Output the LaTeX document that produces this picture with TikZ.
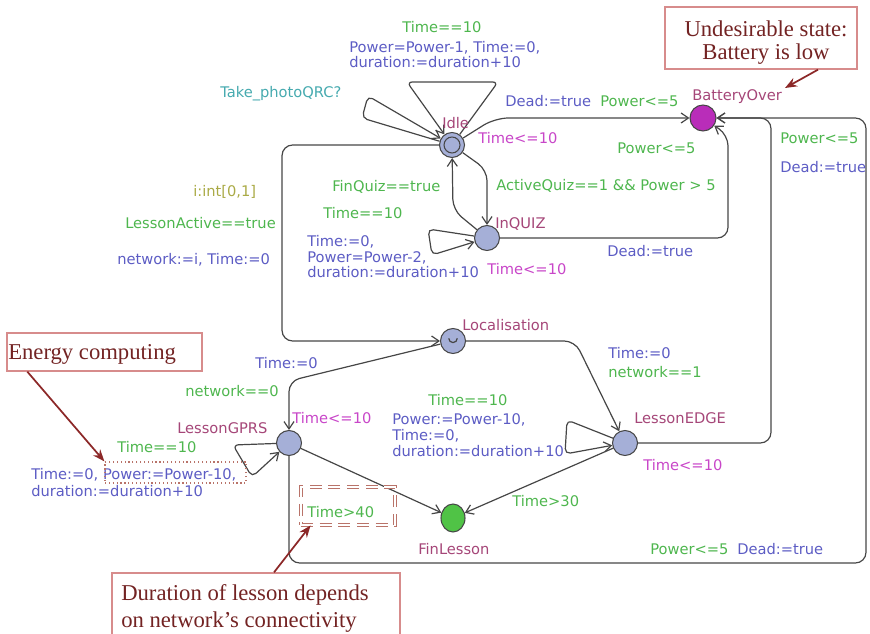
\documentclass[tikz,border=0pt]{standalone}
\usepackage{fontspec}
\newfontfamily\labfont{DejaVu Sans}
\newfontfamily\annfont[Ligatures=TeX]{Liberation Serif}
\usetikzlibrary{arrows.meta,shapes.geometric}

\definecolor{grd}{RGB}{78,182,78}
\definecolor{upd}{RGB}{92,92,196}
\definecolor{inv}{RGB}{200,70,200}
\definecolor{nam}{RGB}{165,70,120}
\definecolor{syn}{RGB}{70,170,175}
\definecolor{sel}{RGB}{170,170,70}
\definecolor{locfill}{RGB}{165,175,215}
\definecolor{battfill}{RGB}{185,45,185}
\definecolor{finfill}{RGB}{80,195,70}
\definecolor{edgec}{RGB}{70,70,70}
\definecolor{anntext}{RGB}{115,35,35}
\definecolor{annline}{RGB}{215,140,140}
\definecolor{annarrow}{RGB}{140,40,40}
\definecolor{dashc}{RGB}{185,115,105}

\newcommand\lb[4]{\node[lbl,text=#1] (#2) at (#3) {#4};}

\begin{document}
\begin{tikzpicture}[x=0.75pt,y=-0.75pt,
  lbl/.style={anchor=west,inner sep=0pt,yshift=-2pt,font=\labfont\fontsize{11}{13}\selectfont,
              text height=1.5ex,text depth=0.3ex},
  locs/.style={circle,draw=edgec,line width=0.8pt,fill=locfill,
               minimum size=18.75pt,inner sep=0pt},
  trans/.style={draw=edgec,line width=0.9pt,rounded corners=8pt,
                -{Straight Barb[length=5.5pt,width=7.5pt]}},
  loopt/.style={trans,rounded corners=4pt},
  annbox/.style={draw=annline,line width=1pt,inner sep=0pt},
  anntxt/.style={anchor=west,inner sep=0pt,yshift=-1.5pt,text=anntext,
                 font=\annfont\fontsize{17}{19}\selectfont},
  annarr/.style={draw=annarrow,line width=1.3pt,-{Stealth[length=9pt,width=7pt]}}]

\useasboundingbox (0,0) rectangle (870,634);

% ---------- locations ----------
\node[locs] (idle) at (452,145) {};
\draw[edgec,line width=0.8pt] (idle.center) circle[radius=6pt];
\node[locs,fill=battfill,minimum size=19.5pt] (batt) at (703,118) {};
\node[locs] (quiz) at (487,238) {};
\node[locs] (local) at (453,341) {};
\draw[edgec,line width=0.9pt] ([xshift=-3.2pt,yshift=2pt]local.center)
  arc[start angle=180,end angle=360,radius=3.2pt];
\node[locs] (gprs) at (289,443) {};
\node[locs] (edgeloc) at (625,443) {};
\node[ellipse,draw=edgec,line width=0.8pt,fill=finfill,minimum width=18pt,
      minimum height=21pt,inner sep=0pt] (fin) at (453,518) {};

% ---------- transitions ----------
% Idle self loops
\draw[loopt] (idle) -- (362,118) -- (368,96) -- (idle);
\draw[loopt] (idle) -- (498,82) -- (407,82) -- (idle);
% Idle -> BatteryOver
\draw[trans,rounded corners=10pt] (idle) -- (495,118) -- (batt);
% Idle <-> InQUIZ
\draw[trans] (idle) -- (487,170) -- (quiz);
\draw[trans] (quiz) -- (453,210) -- (idle);
% InQUIZ self loop
\draw[loopt] (quiz) -- (428,229) -- (432,255) -- (quiz);
% InQUIZ -> BatteryOver
\draw[trans] (quiz) -- (728,238) -- (728,135) -- (batt);
% Idle -> Localisation
\draw[trans] (idle) -- (282,145) -- (282,341) -- (local);
% Localisation -> lessons
\draw[trans] (local) -- (289,381) -- (gprs);
\draw[trans] (local) -- (575,341) -- (edgeloc);
% LessonEDGE self loop
\draw[loopt] (edgeloc) -- (567,420) -- (565,454) -- (edgeloc);
% LessonGPRS self loop
\draw[loopt] (gprs) -- (233,445) -- (252,477) -- (gprs);
% lessons -> BatteryOver
\draw[trans] (edgeloc) -- (771,443) -- (771,118) -- (batt);
\draw[trans] (gprs) -- (289,563) -- (866,563) -- (866,118) -- (batt);
% lessons -> FinLesson
\draw[trans] (edgeloc) -- (fin);
\draw[trans] (gprs) -- (fin);

% ---------- location names and invariants ----------
\lb{nam}{nIdle}{442,122}{Idle}
\lb{nam}{nBatt}{692,94}{BatteryOver}
\lb{nam}{nQuiz}{495,222}{InQUIZ}
\lb{nam}{nLocal}{462,324}{Localisation}
\lb{nam}{nGprs}{177,427}{LessonGPRS}
\lb{nam}{nEdge}{634,417}{LessonEDGE}
\lb{nam}{nFin}{418,548}{FinLesson}
\lb{inv}{iIdle}{478,137}{Time<=10}
\lb{inv}{iQuiz}{487,268}{Time<=10}
\lb{inv}{iGprs}{292,417}{Time<=10}
\lb{inv}{iEdge}{643,464}{Time<=10}

% ---------- edge labels ----------
\lb{grd}{gIdleTop}{402,26}{Time==10}
\lb{upd}{uIdleTopA}{349,46}{Power=Power-1, Time:=0,}
\lb{upd}{uIdleTopB}{349,61}{duration:=duration+10}
\lb{syn}{sPhoto}{220,91}{Take\_photoQRC?}
\lb{upd}{uIdleBatt}{505,100}{Dead:=true}
\lb{grd}{gIdleBatt}{600,100}{Power<=5}
\lb{grd}{gQuizBatt}{617,147}{Power<=5}
\lb{upd}{uQuizBatt}{607,250}{Dead:=true}
\lb{grd}{gEdgeBatt}{780,137}{Power<=5}
\lb{upd}{uEdgeBatt}{780,166}{Dead:=true}
\lb{grd}{gIdleQuiz}{496,184}{ActiveQuiz==1 \&\& Power > 5}
\lb{grd}{gQuizIdle}{332,185}{FinQuiz==true}
\lb{sel}{sLocal}{193,190}{i:int[0,1]}
\lb{grd}{gLocal}{125,222}{LessonActive==true}
\lb{upd}{uLocal}{117,258}{network:=i, Time:=0}
\lb{grd}{gQuizLoop}{323,212}{Time==10}
\lb{upd}{uQuizLoopA}{307,240}{Time:=0,}
\lb{upd}{uQuizLoopB}{307,256}{Power=Power-2,}
\lb{upd}{uQuizLoopC}{307,271}{duration:=duration+10}
\lb{upd}{uGprsIn}{255,362}{Time:=0}
\lb{grd}{gGprsIn}{185,390}{network==0}
\lb{upd}{uEdgeIn}{608,352}{Time:=0}
\lb{grd}{gEdgeIn}{608,371}{network==1}
\lb{grd}{gEdgeLoop}{428,399}{Time==10}
\lb{upd}{uEdgeLoopA}{392,418}{Power:=Power-10,}
\lb{upd}{uEdgeLoopB}{392,434}{Time:=0,}
\lb{upd}{uEdgeLoopC}{392,450}{duration:=duration+10}
\lb{grd}{gGprsLoop}{117,446}{Time==10}
\lb{upd}{uGprsLoopA}{31,473}{Time:=0, Power:=Power-10,}
\lb{upd}{uGprsLoopB}{31,490}{duration:=duration+10}
\lb{grd}{gGprsFin}{307,511}{Time>40}
\lb{grd}{gEdgeFin}{512,500}{Time>30}
\lb{grd}{gGprsBatt}{650,548}{Power<=5}
\lb{upd}{uGprsBatt}{737,548}{Dead:=true}

% ---------- highlight boxes ----------
\node[draw=dashc,dotted,line width=0.9pt,minimum width=105.75pt,minimum height=15.75pt,
      inner sep=0pt] (pbox) at (175.5,472.5) {};
\node[draw=dashc,dashed,dash pattern=on 9pt off 5pt,double=white,double distance=1.6pt,
      line width=0.7pt,minimum width=70.5pt,minimum height=28.5pt,inner sep=0pt]
      (t40box) at (348,506) {};

% ---------- annotations ----------
\node[annbox,minimum width=144pt,minimum height=46.5pt] (undes) at (761,38) {};
\node[anntxt,anchor=center] (undesA) at (766,27) {Undesirable state:};
\node[anntxt,anchor=center] (undesB) at (766,52) {Battery is low};
\coordinate (battname) at (785,88);
\draw[annarr] ([xshift=42.75pt]undes.south) -- (battname);

\node[annbox,minimum width=146.25pt,minimum height=28.5pt] (ebox) at (104.5,352) {};
\node[anntxt] (eboxT) at (8,352) {Energy computing};
\draw[annarr] ([xshift=15.75pt]ebox.south west) -- (pbox.north west);

\node[annbox,minimum width=216pt,minimum height=57.75pt] (dbox) at (256,611.5) {};
\node[anntxt] (dboxA) at (121,593) {Duration of lesson depends};
\node[anntxt] (dboxB) at (121,620) {on network’s connectivity};
\draw[annarr] ([xshift=13.5pt]dbox.north) -- ([xshift=7.5pt]t40box.south west);

\end{tikzpicture}
\end{document}
